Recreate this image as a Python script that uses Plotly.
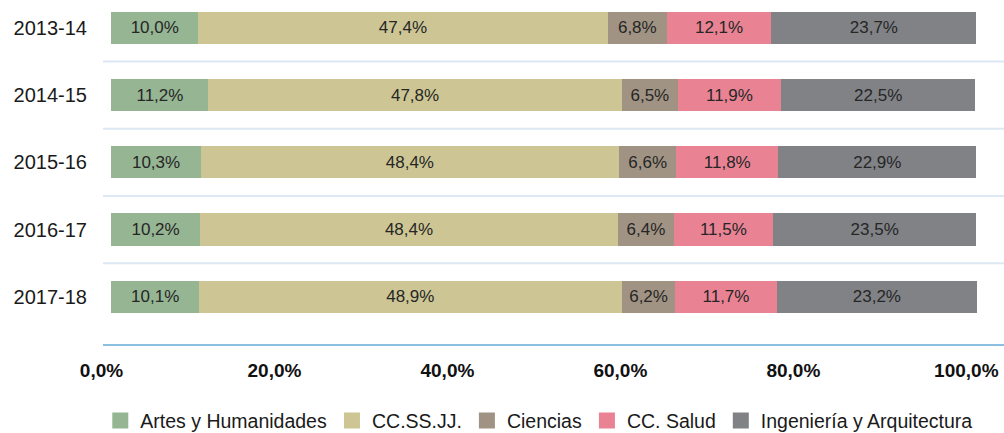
import plotly.graph_objects as go

years = ["2013-14", "2014-15", "2015-16", "2016-17", "2017-18"]
series_names = ["Artes y Humanidades", "CC.SS.JJ.", "Ciencias", "CC. Salud", "Ingeniería y Arquitectura"]
artes = [10.0, 11.2, 10.3, 10.2, 10.1]
ccssjj = [47.4, 47.8, 48.4, 48.4, 48.9]
ciencias = [6.8, 6.5, 6.6, 6.4, 6.2]
salud = [12.1, 11.9, 11.8, 11.5, 11.7]
ingenieria = [23.7, 22.5, 22.9, 23.5, 23.2]
x_ticks = [0, 20, 40, 60, 80, 100]

series_values = [artes, ccssjj, ciencias, salud, ingenieria]
colors = ["#95b593", "#cdc694", "#a09383", "#e98394", "#818286"]

FONT = "Liberation Sans, Arial, Helvetica, sans-serif"

fig = go.Figure()
for name, vals, col in zip(series_names, series_values, colors):
    fig.add_trace(go.Bar(
        y=years, x=vals, name=name, orientation="h",
        marker=dict(color=col, line=dict(width=0)),
        texttemplate="%{x:.1f}%", textposition="inside",
        insidetextanchor="middle", textangle=0,
        insidetextfont=dict(family=FONT, size=17, color="#262626"),
        showlegend=False, hoverinfo="skip",
    ))
# legend proxies (larger square swatches)
for name, col in zip(series_names, colors):
    fig.add_trace(go.Scatter(
        x=[None], y=[None], mode="markers", name=name,
        marker=dict(symbol="square", size=22, color=col),
        showlegend=True,
    ))

shapes = []
for k in range(len(years) - 1):
    shapes.append(dict(type="line", xref="paper", x0=0, x1=1, yref="y",
                       y0=k + 0.5, y1=k + 0.5,
                       line=dict(color="#dce8f3", width=2), layer="below"))

tick_text = [f"{v:.1f}%".replace(".", ",") for v in x_ticks]

fig.update_layout(
    width=1004, height=433,
    margin=dict(l=103, r=0, t=0, b=89, autoexpand=False),
    paper_bgcolor="white", plot_bgcolor="white",
    barmode="stack", bargap=0.52,
    separators=",.",
    font=dict(family=FONT, color="#1a1a1a"),
    xaxis=dict(range=[-0.98, 103.2], tickvals=x_ticks, ticktext=tick_text,
               showgrid=False, zeroline=False, showline=True,
               linecolor="#8cc0e3", linewidth=2,
               ticks="outside", ticklen=8, tickcolor="rgba(0,0,0,0)",
               ticklabelshift=-10,
               tickfont=dict(family=FONT, size=19, color="#111111", weight="bold"),
               fixedrange=True),
    yaxis=dict(type="category", categoryorder="array", categoryarray=years,
               range=[4.70, -0.413], showgrid=False, zeroline=False, showline=False,
               ticks="", ticklabelstandoff=15,
               tickfont=dict(family=FONT, size=20, color="#1a1a1a"),
               fixedrange=True),
    shapes=shapes,
    legend=dict(orientation="h", x=-0.003, xanchor="left", xref="paper",
                y=-0.167, yanchor="top", traceorder="normal",
                font=dict(family=FONT, size=19.5, color="#1a1a1a"),
                itemsizing="trace", bgcolor="rgba(0,0,0,0)"),
    showlegend=True,
)

fig.write_html("out.html", config={"displayModeBar": False},
               post_script="document.body.style.margin='0';")
